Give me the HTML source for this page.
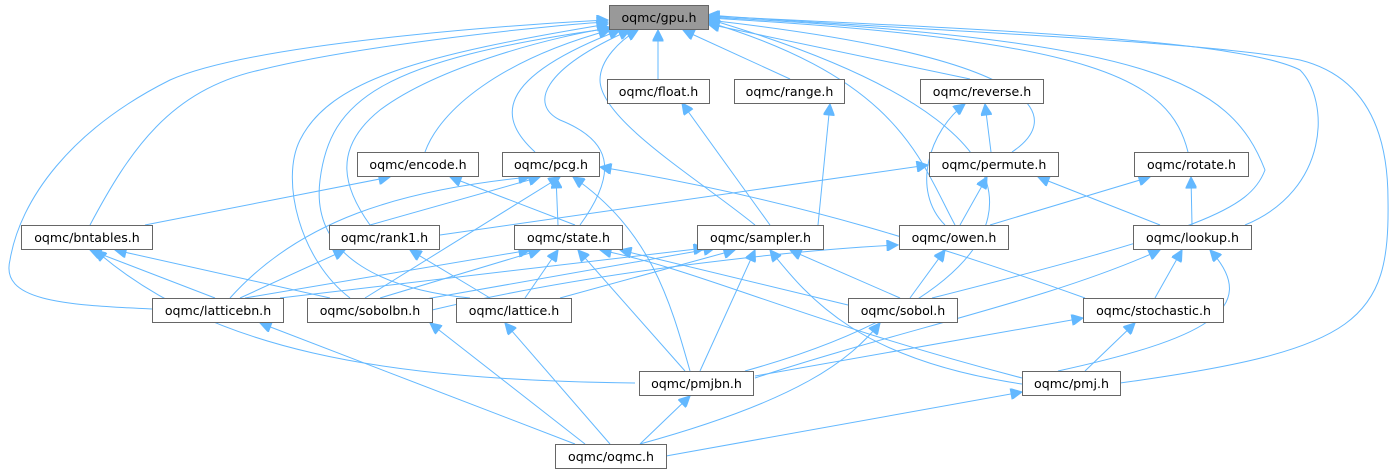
<!DOCTYPE html>
<html><head><meta charset="utf-8"><style>
body{margin:0;background:#fff}
svg{display:block}
text{font-family:"DejaVu Sans","Liberation Sans",sans-serif;font-size:12.6px;fill:#000}
.b{fill:#fff;stroke:#666;stroke-width:1}
.e{fill:none;stroke:#63b8ff;stroke-width:1}
</style></head><body>
<svg width="1392" height="476" viewBox="0 0 1392 476">
<defs><marker id="a" viewBox="0 0 10 10" refX="10" refY="5" markerWidth="14" markerHeight="11" markerUnits="userSpaceOnUse" orient="auto"><path d="M0,0 L10,5 L0,10z" fill="#63b8ff" stroke="#63b8ff"/></marker></defs>
<g class="e" marker-end="url(#a)">
<path d="M152,309 C60,305 0,300 10,260 C20,200 70,130 170,80 C260,40 560,22 608,20"/>
<path d="M90,225 C130,150 170,90 260,70 C360,45 560,24 608,22"/>
<path d="M350,298 C300,260 280,180 300,140 C330,80 420,55 608,24"/>
<path d="M470,298 C390,290 310,260 320,180 C330,100 380,60 612,28"/>
<path d="M370,225 C345,190 330,150 380,110 C440,65 560,35 610,28"/>
<path d="M425,152 C440,110 500,60 610,30"/>
<path d="M535,152 C500,120 490,80 620,30"/>
<path d="M580,225 C620,170 610,140 560,120 C530,105 540,70 630,30"/>
<path d="M755,225 C700,180 600,120 600,80 C600,60 620,40 638,30"/>
<path d="M658,79 L658,30"/>
<path d="M790,79 L683,30"/>
<path d="M970,79 L708,24"/>
<path d="M955,225 C920,160 900,80 708,22"/>
<path d="M1012,152 C1060,120 1060,60 708,20"/>
<path d="M745,371 C1000,300 1150,150 708,19"/>
<path d="M1188,152 C1170,80 1100,40 708,18"/>
<path d="M932,298 C1200,230 1250,210 1265,170 C1230,80 1150,40 708,17"/>
<path d="M1245,225 C1330,190 1330,100 1300,70 C1240,40 1000,30 708,16"/>
<path d="M1120,383 C1360,350 1390,320 1388,200 C1388,100 1340,70 1300,60 C1200,40 900,30 708,15"/>
<path d="M770,225 L682,103"/>
<path d="M818,225 L830,104"/>
<path d="M991,152 L985,104"/>
<path d="M945,225 C910,190 930,130 965,104"/>
<path d="M145,225 L390,177"/>
<path d="M575,225 L450,177"/>
<path d="M370,225 L540,177"/>
<path d="M558,225 L556,177"/>
<path d="M230,298 C300,220 400,190 530,177"/>
<path d="M365,298 L560,177"/>
<path d="M690,371 C670,300 650,230 573,177"/>
<path d="M1085,298 C950,250 800,200 600,167"/>
<path d="M440,235 L928,165"/>
<path d="M960,225 L987,177"/>
<path d="M1160,225 L1038,177"/>
<path d="M990,225 L1150,177"/>
<path d="M1192,225 L1191,177"/>
<path d="M215,298 L90,250"/>
<path d="M330,298 L115,250"/>
<path d="M635,383 C380,380 210,350 95,250"/>
<path d="M240,298 L345,250"/>
<path d="M490,298 L410,250"/>
<path d="M245,298 L530,250"/>
<path d="M380,298 L540,250"/>
<path d="M525,298 L558,250"/>
<path d="M685,371 L578,250"/>
<path d="M1022,378 C800,320 700,270 600,250"/>
<path d="M848,305 L620,250"/>
<path d="M280,298 L705,248"/>
<path d="M420,300 L715,248"/>
<path d="M560,298 L735,250"/>
<path d="M700,371 L755,250"/>
<path d="M1022,384 C860,360 810,300 770,250"/>
<path d="M900,298 L790,250"/>
<path d="M432,310 C600,270 800,250 898,245"/>
<path d="M910,298 L945,250"/>
<path d="M1155,298 L1182,250"/>
<path d="M755,378 C900,330 1050,300 1160,250"/>
<path d="M1058,371 C1200,340 1265,310 1210,250"/>
<path d="M755,376 L1083,318"/>
<path d="M1085,371 L1135,323"/>
<path d="M585,444 L430,323"/>
<path d="M610,444 L505,323"/>
<path d="M575,444 L260,323"/>
<path d="M640,444 L690,396"/>
<path d="M640,444 C800,400 850,360 880,323"/>
<path d="M666,456 L1022,392"/>
</g>
<g>
<rect x="609.5" y="5.5" width="99" height="24" fill="#999" stroke="#666"/><text x="659" y="22" text-anchor="middle">oqmc/gpu.h</text>
<rect class="b" x="607.5" y="79.5" width="102" height="24"/><text x="658.5" y="96" text-anchor="middle">oqmc/float.h</text>
<rect class="b" x="734.5" y="79.5" width="110" height="24"/><text x="789.5" y="96" text-anchor="middle">oqmc/range.h</text>
<rect class="b" x="920.5" y="79.5" width="123" height="24"/><text x="982" y="96" text-anchor="middle">oqmc/reverse.h</text>
<rect class="b" x="357.5" y="152.5" width="121" height="24"/><text x="418" y="169" text-anchor="middle">oqmc/encode.h</text>
<rect class="b" x="502.5" y="152.5" width="97" height="24"/><text x="551" y="169" text-anchor="middle">oqmc/pcg.h</text>
<rect class="b" x="929.5" y="152.5" width="129" height="24"/><text x="994" y="169" text-anchor="middle">oqmc/permute.h</text>
<rect class="b" x="1134.5" y="152.5" width="114" height="24"/><text x="1191.5" y="169" text-anchor="middle">oqmc/rotate.h</text>
<rect class="b" x="21.5" y="225.5" width="131" height="24"/><text x="87" y="242" text-anchor="middle">oqmc/bntables.h</text>
<rect class="b" x="329.5" y="225.5" width="110" height="24"/><text x="384.5" y="242" text-anchor="middle">oqmc/rank1.h</text>
<rect class="b" x="514.5" y="225.5" width="108" height="24"/><text x="568.5" y="242" text-anchor="middle">oqmc/state.h</text>
<rect class="b" x="697.5" y="225.5" width="126" height="24"/><text x="760.5" y="242" text-anchor="middle">oqmc/sampler.h</text>
<rect class="b" x="899.5" y="225.5" width="109" height="24"/><text x="954" y="242" text-anchor="middle">oqmc/owen.h</text>
<rect class="b" x="1133.5" y="225.5" width="118" height="24"/><text x="1192.5" y="242" text-anchor="middle">oqmc/lookup.h</text>
<rect class="b" x="152.5" y="298.5" width="131" height="24"/><text x="218" y="315" text-anchor="middle">oqmc/latticebn.h</text>
<rect class="b" x="307.5" y="298.5" width="125" height="24"/><text x="370" y="315" text-anchor="middle">oqmc/sobolbn.h</text>
<rect class="b" x="456.5" y="298.5" width="115" height="24"/><text x="514" y="315" text-anchor="middle">oqmc/lattice.h</text>
<rect class="b" x="848.5" y="298.5" width="109" height="24"/><text x="903" y="315" text-anchor="middle">oqmc/sobol.h</text>
<rect class="b" x="1083.5" y="298.5" width="140" height="24"/><text x="1153.5" y="315" text-anchor="middle">oqmc/stochastic.h</text>
<rect class="b" x="639.5" y="371.5" width="114" height="24"/><text x="696.5" y="388" text-anchor="middle">oqmc/pmjbn.h</text>
<rect class="b" x="1022.5" y="371.5" width="98" height="24"/><text x="1071.5" y="388" text-anchor="middle">oqmc/pmj.h</text>
<rect class="b" x="555.5" y="444.5" width="111" height="24"/><text x="611" y="461" text-anchor="middle">oqmc/oqmc.h</text>
</g>
</svg>
</body></html>
